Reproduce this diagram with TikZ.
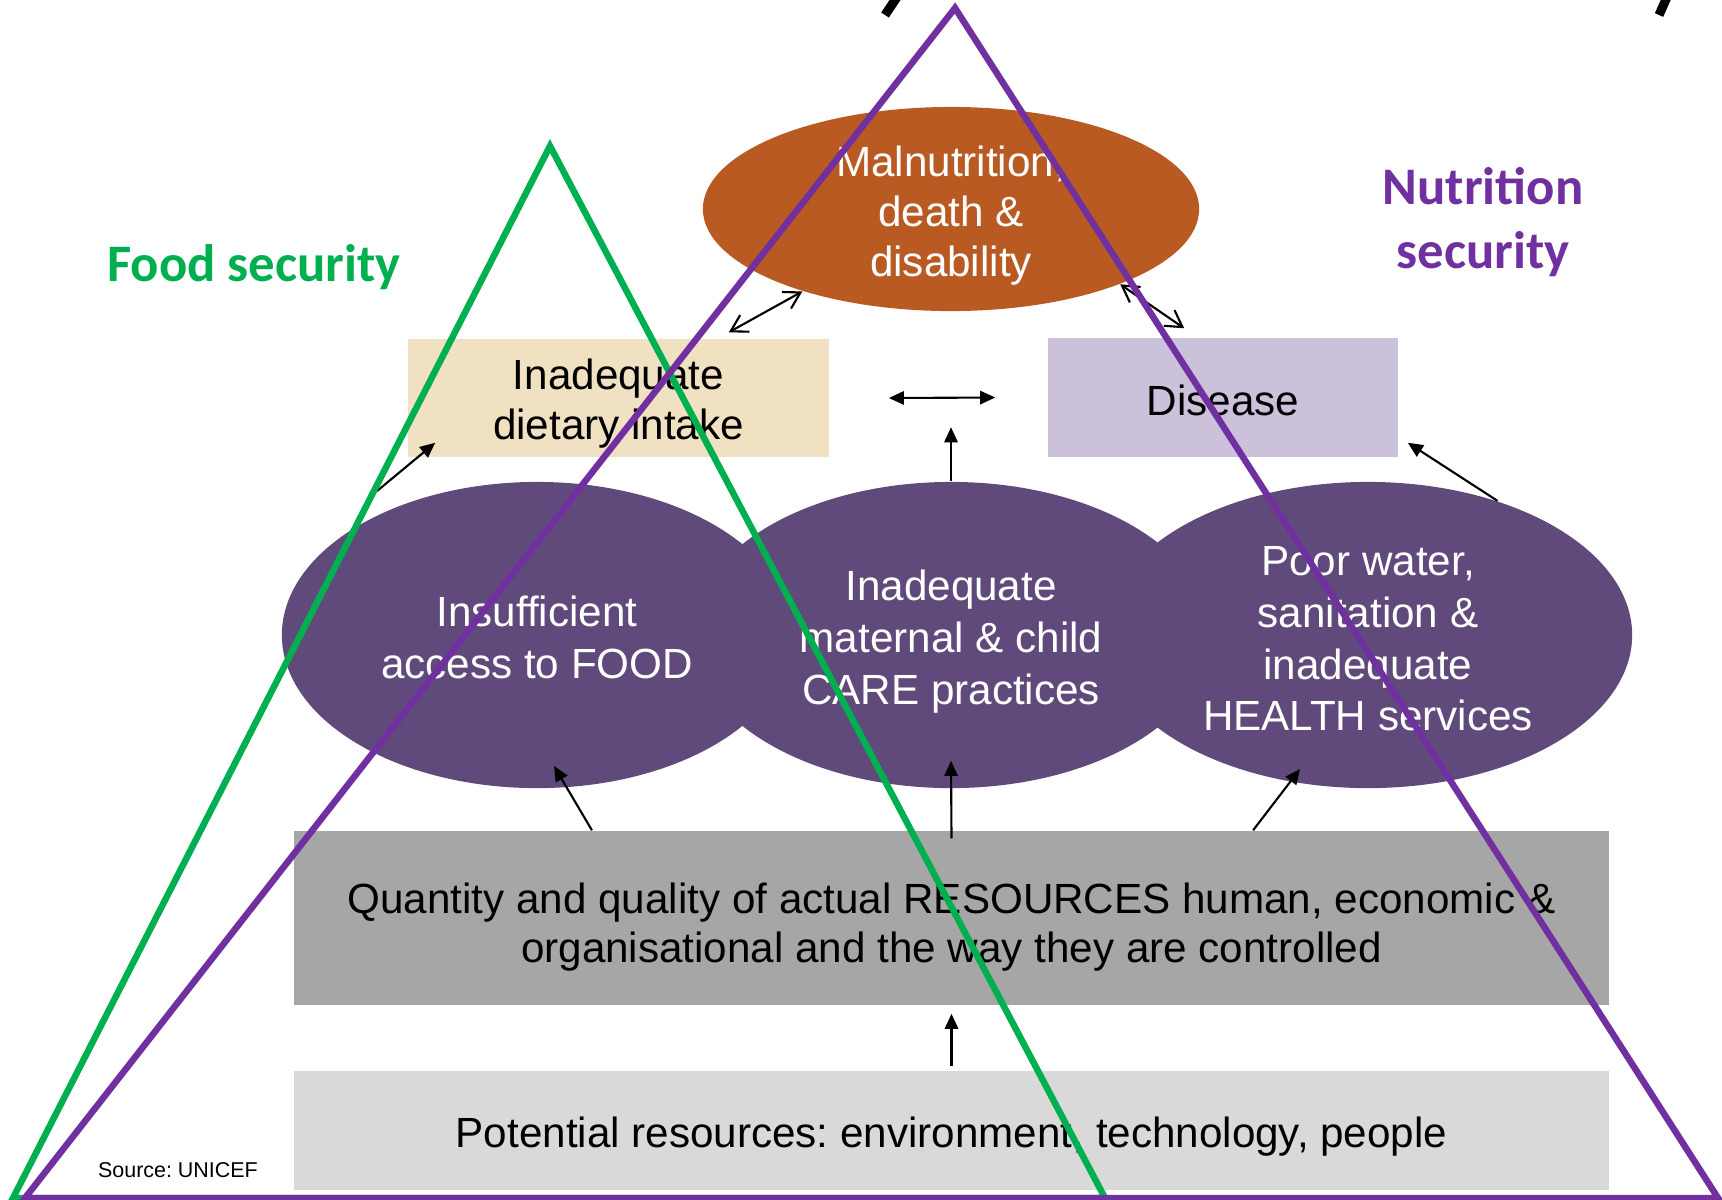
\documentclass[tikz,border=0pt]{standalone}
\usepackage{fontspec}
\setmainfont{Liberation Sans}
\newfontfamily\headfont{Carlito}
\frenchspacing
\usetikzlibrary{shapes.geometric,arrows.meta,calc}

\definecolor{malorange}{RGB}{185,90,35}
\definecolor{causepurple}{RGB}{96,74,123}
\definecolor{dietbeige}{RGB}{239,225,193}
\definecolor{diseaselilac}{RGB}{204,193,218}
\definecolor{resgray}{RGB}{166,166,166}
\definecolor{potgray}{RGB}{217,217,217}
\definecolor{foodgreen}{RGB}{0,176,80}
\definecolor{nutripurple}{RGB}{112,48,160}

% invisible strut on the first line, pushes the text down a little
\newcommand{\txtdrop}[1]{\rule{0pt}{#1}}

\tikzset{
  outcome/.style={ellipse, fill=malorange, text=white, align=center, inner sep=-4pt,
    minimum width=4.96cm, minimum height=2.04cm, font=\fontsize{12}{14.2}\selectfont},
  cause/.style={ellipse, fill=causepurple, text=white, align=center, inner sep=-2pt,
    minimum height=3.06cm, font=\fontsize{12}{14.7}\selectfont},
  fillbox/.style={rectangle, inner sep=0pt, align=center, font=\fontsize{12}{14.1}\selectfont},
  arr/.style={line width=0.6pt, -{Triangle[length=4.3pt,width=3.8pt]}},
  dblarr/.style={line width=0.6pt, {Triangle[length=4.3pt,width=3.8pt]}-{Triangle[length=4.3pt,width=3.8pt]}},
  openarr/.style={line width=0.6pt, {Straight Barb[length=4.6pt,width=5.4pt]}-{Straight Barb[length=4.6pt,width=5.4pt]}},
  sidetri/.style={line width=1.85pt},
  headlabel/.style={font=\headfont\bfseries\fontsize{15}{18.3}\selectfont, align=center},
}

\begin{document}
\begin{tikzpicture}[x=0.01cm,y=-0.01cm]
    \useasboundingbox (0,0) rectangle (1722,1199);
    \node[fillbox, fill=dietbeige, minimum width=4.21cm, minimum height=1.18cm] (diet) at (618.5,398) {\txtdrop{11.9pt}Inadequate\\dietary intake};
    \node[fillbox, fill=diseaselilac, minimum width=3.50cm, minimum height=1.19cm] (dis) at (1223,397.5) {\txtdrop{10.6pt}Disease};
    \node[fillbox, fill=resgray, minimum width=13.15cm, minimum height=1.74cm] (res) at (951.5,918) {\txtdrop{13.8pt}Quantity and quality of actual RESOURCES human, economic \&\\organisational and the way they are controlled};
    \node[fillbox, fill=potgray, minimum width=13.15cm, minimum height=1.19cm] (pot) at (951.5,1130.5) {\txtdrop{12.2pt}Potential resources: environment, technology, people};
    \node[outcome] (mal) at (951,209) {\txtdrop{12.5pt}Malnutrition,\\death \&\\disability};
    \node[cause, minimum width=5.28cm] (wash) at (1368,635) {\txtdrop{10.6pt}Poor water,\\sanitation \&\\inadequate\\HEALTH services};
    \node[cause, minimum width=5.18cm] (care) at (951,635) {\txtdrop{12.5pt}Inadequate\\maternal \& child\\CARE practices};
    \node[cause, minimum width=5.10cm] (food) at (537,635) {\txtdrop{10pt}Insufficient\\access to FOOD};

    \draw[openarr] ($(diet.north east)+(-101,-6)$) -- (mal.209);
    \draw[openarr] (mal.-24) -- ($(dis.north west)+(137,-9)$);
    \draw[dblarr] ($(diet.east)+(59,0)$) -- ($(dis.west)+(-52,0)$);
    \draw[arr] (care.north) -- ($(care.north)+(0,-54)$);
    \draw[arr] ($(food.center)+(-160,-144)$) -- ($(diet.south west)+(28,-15)$);
    \draw[arr] (wash.46) -- ($(dis.south east)+(9,-15)$);
    \draw[arr] ($(res.north west)+(299,0)$) -- ($(food.center)+(17,131)$);
    \draw[arr] ($(res.north)+(0,8)$) -- ($(care.south)+(0,-28)$);
    \draw[arr] ($(res.north east)+(-357,0)$) -- ($(wash.center)+(-68,134)$);
    \draw[arr] ($(pot.north)+(0,-4)$) -- ($(res.south)+(0,8)$);

    \node[headlabel, text=foodgreen] (foodsec) at (254,267) {Food security};
    \node[headlabel, text=nutripurple] (nutrisec) at (1483,222) {Nutrition\\security};
    \node[font=\fontsize{6.1}{7}\selectfont] (source) at (178,1170) {Source: UNICEF};

    \draw[line width=2.6pt] (897,-3) -- (885,15);
    \draw[line width=2.6pt] (1667,-3) -- (1659,15);

    \draw[sidetri, foodgreen] (550,146) -- (13,1198) -- (1105,1198) -- cycle;
    \draw[sidetri, nutripurple] (955,8) -- (25,1198) -- (1718,1198) -- cycle;
\end{tikzpicture}
\end{document}
